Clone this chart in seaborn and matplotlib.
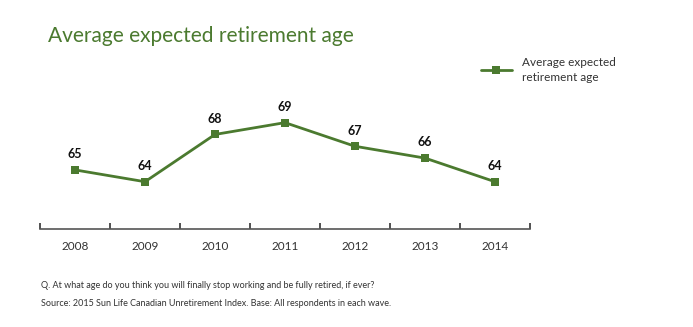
import matplotlib
matplotlib.use("Agg")
import matplotlib.pyplot as plt
from matplotlib.ticker import FixedLocator
import seaborn as sns
import pandas as pd

years = ["2008", "2009", "2010", "2011", "2012", "2013", "2014"]
ages = [65, 64, 68, 69, 67, 66, 64]
series_name = "Average expected retirement age"

GREEN = "#4b7a2f"
TEXT = "#333333"

sns.set_style("white")
plt.rcParams["font.family"] = ["Lato", "DejaVu Sans"]

df = pd.DataFrame({"year": years, "age": ages})

fig = plt.figure(figsize=(6.93, 3.27), dpi=100)
ax = fig.add_axes([40 / 693, 1 - 229 / 327, 490 / 693, 130 / 327])

sns.lineplot(data=df, x="year", y="age", ax=ax, color=GREEN, linewidth=2,
             marker="s", markersize=6, markeredgewidth=0, sort=False,
             label="Average expected\nretirement age")

ax.set_xlim(-0.5, len(years) - 0.5)
ax.set_ylim(60, 71)

# value labels above each point
for i, v in enumerate(ages):
    ax.annotate(f"{v}", (i, v), xytext=(0, 7), textcoords="offset points",
                ha="center", va="bottom", fontsize=9, fontweight="bold",
                color="#111111")

# axes styling: only a bottom baseline with boundary ticks
for side in ("top", "right", "left"):
    ax.spines[side].set_visible(False)
ax.spines["bottom"].set_color("#555555")
ax.spines["bottom"].set_linewidth(1.2)
ax.set_yticks([])
ax.set_xlabel("")
ax.set_ylabel("")
ax.xaxis.set_minor_locator(FixedLocator([i - 0.5 for i in range(len(years) + 1)]))
ax.tick_params(axis="x", which="major", length=0, labelsize=8.5,
               labelcolor=TEXT, pad=9)
ax.tick_params(axis="x", which="minor", direction="in", length=4,
               width=1.2, color="#333333", bottom=True)

leg = ax.legend(loc="upper left", bbox_to_anchor=(481 / 693, 1 - 57 / 327),
                bbox_transform=fig.transFigure, frameon=False, fontsize=8.5,
                handlelength=2.6, handletextpad=0.9, borderaxespad=0,
                borderpad=0, labelspacing=0.5)
for t in leg.get_texts():
    t.set_color(TEXT)
    t.set_linespacing(1.45)

fig.text(48 / 693, 1 - 36 / 327, series_name, color=GREEN, fontsize=15,
         ha="left", va="center")

fig.text(41 / 693, 1 - 286 / 327,
         "Q. At what age do you think you will finally stop working and be fully retired, if ever?",
         fontsize=6.5, color=TEXT, ha="left", va="center")
fig.text(41 / 693, 1 - 304 / 327,
         "Source: 2015 Sun Life Canadian Unretirement Index. Base: All respondents in each wave.",
         fontsize=6.5, color=TEXT, ha="left", va="center")

fig.savefig("out.png", dpi=100)
